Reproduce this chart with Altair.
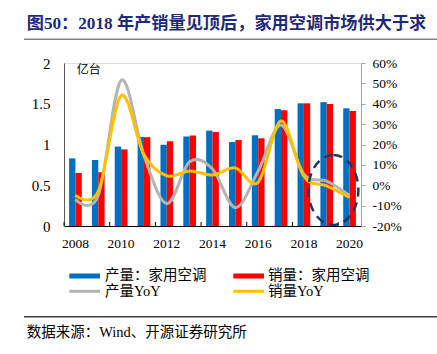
import altair as alt
import pandas as pd

# ---------------- data ----------------
years = list(range(2008, 2021))
prod = [0.83, 0.81, 0.975, 1.094, 0.996, 1.098, 1.17, 1.03, 1.113, 1.435, 1.505, 1.52, 1.444]
sales = [0.65, 0.66, 0.94, 1.09, 1.04, 1.11, 1.153, 1.055, 1.076, 1.42, 1.505, 1.497, 1.411]
prod_yoy = [-7, -5, 51.5, 14.5, -9, 11.5, 8, -11, 7, 29.6, 5.4, 2, -5]
sales_yoy = [-5, -3, 44, 15, 4.6, 7, 5, 8.5, 1.5, 31.5, 4.3, -0.3, -6]
bar_series = ["产量：家用空调", "销量：家用空调"]
line_series = ["产量YoY", "销量YoY"]
x_label_years = [2008, 2010, 2012, 2014, 2016, 2018, 2020]
left_ticks = [0, 0.5, 1, 1.5, 2]
right_ticks = [-20, -10, 0, 10, 20, 30, 40, 50, 60]
# highlighted region (annotation): year 2019, around -2%
ell_year = [2019]
ell_yoy = [-2.3]

title_text = "图50：2018 年产销量见顶后，家用空调市场供大于求"
source_text = "数据来源：Wind、开源证券研究所"
unit_text = "亿台"

# ---------------- layout ----------------
W, H = 297, 163
PL, PT = 64, 63
n = len(years)
PAD_IN, PAD_OUT = 0.444, 0.222
STEP = W / n

FONT = "Liberation Serif, Noto Sans CJK SC"
BLUE, RED, GREY, YELLOW, NAVY = "#0070C0", "#FF0000", "#B4B4B4", "#FFC000", "#1F3864"

bar_df = pd.DataFrame({
    "year": years * 2,
    "series": [bar_series[0]] * n + [bar_series[1]] * n,
    "value": prod + sales,
})
yoy_df = pd.DataFrame({
    "year": years * 2,
    "series": [line_series[0]] * n + [line_series[1]] * n,
    "yoy": prod_yoy + sales_yoy,
})
ell_df = pd.DataFrame({"year": ell_year, "yoy": ell_yoy})
tick_df = pd.DataFrame({"year": x_label_years})

x_axis = alt.Axis(values=x_label_years, title=None, labelAngle=0, ticks=False,
                  domainColor="#000000", domainWidth=1, labelFont=FONT,
                  labelFontSize=13.5, labelColor="#000000", labelPadding=10)
x_scale = alt.Scale(paddingInner=PAD_IN, paddingOuter=PAD_OUT)
x_enc = alt.X("year:O", scale=x_scale, axis=x_axis)

y_right = alt.Y("yoy:Q", scale=alt.Scale(domain=[-20, 60], nice=False),
                axis=alt.Axis(orient="right", values=right_ticks,
                              labelExpr="datum.value + '%'", title=None, grid=False,
                              tickSize=4, tickColor="#A6A6A6", domainColor="#A6A6A6",
                              labelPadding=7, labelFont=FONT, labelFontSize=13.5,
                              labelColor="#000000"))

bars = alt.Chart(bar_df).mark_bar().encode(
    x=x_enc,
    xOffset=alt.XOffset("series:N", sort=bar_series,
                        scale=alt.Scale(paddingInner=0, paddingOuter=0)),
    y=alt.Y("value:Q", scale=alt.Scale(domain=[0, 2], nice=False),
            axis=alt.Axis(orient="left", values=left_ticks, format="~g", title=None,
                          grid=False, ticks=False, domainColor="#595959",
                          labelFont=FONT, labelFontSize=15, labelPadding=14,
                          labelColor="#000000")),
    color=alt.Color("series:N", scale=alt.Scale(domain=bar_series, range=[BLUE, RED]),
                    legend=None),
)

lines = alt.Chart(yoy_df).mark_line(interpolate="cardinal", strokeWidth=3).encode(
    x=x_enc,
    y=y_right,
    color=alt.Color("series:N", scale=alt.Scale(domain=line_series, range=[GREY, YELLOW]),
                    legend=None),
)

# ellipse outline as a custom symbol path (unit box)
a, cx, k = 0.714, 0.19, 0.5523
kx = k * a
f = lambda v: f"{v:.3f}"
ell_path = (
    f"M{f(cx)},-1 C{f(cx+kx)},-1 {f(cx+a)},{f(-k)} {f(cx+a)},0 "
    f"C{f(cx+a)},{f(k)} {f(cx+kx)},1 {f(cx)},1 "
    f"C{f(cx-kx)},1 {f(cx-a)},{f(k)} {f(cx-a)},0 "
    f"C{f(cx-a)},{f(-k)} {f(cx-kx)},-1 {f(cx)},-1 Z"
)
ellipse = alt.Chart(ell_df).mark_point(
    shape=ell_path, size=4900, filled=False, stroke=NAVY, strokeWidth=2.5,
    strokeDash=[9, 6], opacity=1,
).encode(x=x_enc, y=y_right)

right = alt.layer(lines, ellipse)

xticks = alt.Chart(tick_df).mark_rule(color="#000000", strokeWidth=1,
                                      xOffset=-STEP * PAD_IN / 2).encode(
    x=alt.X("year:O", bandPosition=0, scale=x_scale, axis=x_axis),
    y=alt.value(H), y2=alt.value(H - 4),
)


def txt(s, x, y, size, color="#000000", weight="normal"):
    return alt.Chart(pd.DataFrame({"t": [s]})).mark_text(
        align="left", baseline="middle", fontSize=size, font=FONT, color=color,
        fontWeight=weight,
    ).encode(text="t:N", x=alt.value(x), y=alt.value(y))


def hline(x1, x2, y, color, width):
    return alt.Chart(pd.DataFrame({"a": [0]})).mark_rule(
        color=color, strokeWidth=width
    ).encode(x=alt.value(x1), x2=alt.value(x2), y=alt.value(y))


annotations = [
    txt(title_text, 26.7 - PL, 24 - PT, 17.2, color="#1F2A7A", weight="bold"),
    hline(24 - PL, 437 - PL, 39.3 - PT, "#808080", 1.5),
    txt(unit_text, 76.7 - PL, 70 - PT, 12),
    # legend
    hline(69.3 - PL, 100 - PL, 276 - PT, BLUE, 5),
    txt(bar_series[0], 105 - PL, 276 - PT, 14.5),
    hline(233.3 - PL, 264 - PL, 276 - PT, RED, 5),
    txt(bar_series[1], 268 - PL, 276 - PT, 14.5),
    hline(69.3 - PL, 100 - PL, 291.3 - PT, GREY, 3),
    txt(line_series[0], 105 - PL, 291.5 - PT, 14.5),
    hline(233.3 - PL, 264 - PL, 291.3 - PT, YELLOW, 3),
    txt(line_series[1], 268 - PL, 291.5 - PT, 14.5),
    # source
    hline(24 - PL, 437 - PL, 316.7 - PT, "#404040", 1.5),
    txt(source_text, 26.7 - PL, 332.7 - PT, 14.5),
]

chart = alt.layer(bars, right, xticks, *annotations).resolve_scale(
    y="independent", color="independent"
).properties(
    width=W, height=H,
    autosize=alt.AutoSizeParams(type="none"),
    padding={"left": PL, "top": PT, "right": 437 - PL - W, "bottom": 354 - PT - H},
).configure_view(stroke=None).configure(background="white")

chart.save("out.html", embed_options={"renderer": "svg", "actions": False})
